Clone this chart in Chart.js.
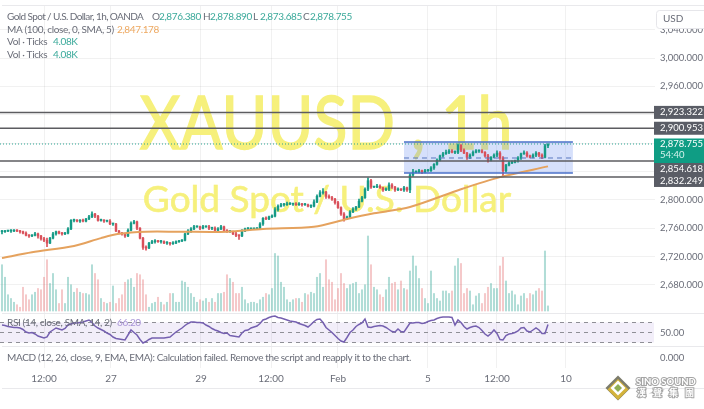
<!DOCTYPE html>
<html>
<head>
<meta charset="utf-8">
<script src="https://cdn.jsdelivr.net/npm/chart.js@4"></script>
<style>
  html, body { margin: 0; padding: 0; background: #fff; }
  canvas { display: block; filter: blur(0.35px); }
</style>
</head>
<body>
<canvas id="chart" width="704" height="409" style="width:704px;height:409px"></canvas>
<script>
// candles, one hour each
const opens = [
  2755,2755,2756,2756,2756,2757,2756,2755,2753,2750,
  2749,2750,2752,2749,2745,2743,2739,2746,2752,2755,
  2753,2752,2753,2759,2771,2771,2770,2771,2770,2773,
  2776,2780,2777,2771,2771,2770,2770,2766,2766,2756,
  2753,2752,2749,2757,2767,2769,2760,2746,2733,2732,
  2739,2741,2742,2741,2741,2739,2739,2738,2739,2741,
  2742,2743,2752,2756,2759,2762,2762,2760,2762,2762,
  2760,2760,2757,2759,2762,2757,2755,2755,2752,2750,
  2749,2756,2759,2759,2759,2759,2759,2766,2774,2773,
  2776,2777,2786,2791,2793,2793,2794,2794,2794,2793,
  2794,2793,2793,2791,2791,2797,2805,2810,2811,2805,
  2803,2801,2796,2789,2780,2773,2776,2783,2787,2790,
  2798,2803,2815,2827,2818,2818,2819,2817,2814,2815,
  2821,2818,2814,2815,2814,2817,2814,2835,2839,2839,
  2841,2839,2841,2841,2845,2850,2856,2862,2865,2867,
  2869,2867,2867,2877,2870,2866,2860,2863,2867,2869,
  2869,2867,2862,2856,2860,2863,2866,2859,2841,2849,
  2852,2853,2855,2859,2865,2866,2862,2860,2863,2866,
  2863,2860,2876.38
];
const closes = [
  2755,2756,2756,2756,2757,2756,2755,2753,2750,2749,
  2750,2752,2749,2745,2743,2739,2746,2752,2755,2753,
  2752,2753,2759,2771,2771,2770,2771,2770,2773,2776,
  2780,2777,2771,2771,2770,2770,2766,2766,2756,2753,
  2752,2749,2757,2767,2769,2760,2746,2733,2732,2739,
  2741,2742,2741,2741,2739,2739,2738,2739,2741,2742,
  2743,2752,2756,2759,2762,2762,2760,2762,2762,2760,
  2760,2757,2759,2762,2757,2755,2755,2752,2750,2749,
  2756,2759,2759,2759,2759,2759,2766,2774,2773,2776,
  2777,2786,2791,2793,2793,2794,2794,2794,2793,2794,
  2793,2793,2791,2791,2797,2805,2810,2811,2805,2803,
  2801,2796,2789,2780,2773,2776,2783,2787,2790,2798,
  2803,2815,2827,2818,2818,2819,2817,2814,2815,2821,
  2818,2814,2815,2814,2817,2814,2835,2839,2839,2841,
  2839,2841,2841,2845,2850,2856,2862,2865,2867,2869,
  2867,2867,2877,2870,2866,2860,2863,2867,2869,2869,
  2867,2862,2856,2860,2863,2866,2859,2841,2849,2852,
  2853,2855,2859,2865,2866,2862,2860,2863,2866,2863,
  2860,2876.38,2878.755
];
const upperWicks = [
  2,1,1,2,1,1,1,1,2,1, 1,2,1,1,2,3,1,2,1,1, 1,1,2,1,2,1,1,2,1,2,
  3,1,1,2,1,1,2,1,1,1, 1,1,2,2,2,1,1,1,2,1, 2,2,1,2,1,2,1,2,1,1,
  1,1,2,2,2,1,1,2,1,2, 1,2,2,2,1,1,2,1,2,1, 2,1,2,1,1,2,2,1,2,1,
  2,3,2,2,2,3,2,1,2,2, 1,2,1,2,3,2,3,5,1,2, 2,1,2,1,2,1,2,2,1,3,
  2,2,4,2,1,3,2,1,2,3, 2,1,2,1,2,1,2,4,2,2, 1,2,2,2,1,2,1,2,3,2,
  2,2,2,1,2,1,2,2,2,1, 2,1,2,1,2,3,2,2,1,2, 2,1,2,1,3,2,1,2,2,1,
  2,2,0.1
];
const lowerWicks = [
  3,1,1,2,1,1,2,1,1,2, 1,1,3,2,2,5,1,1,2,1, 2,1,1,1,2,1,2,1,1,1,
  1,2,1,1,2,1,1,2,1,1, 2,2,1,1,1,2,1,3,3,1, 1,2,1,2,1,2,2,1,1,1,
  1,1,1,2,1,1,2,1,1,2, 2,2,1,1,2,1,1,1,2,5, 1,1,2,1,1,1,1,2,1,1,
  1,1,2,1,2,1,1,2,1,1, 2,1,1,2,1,1,1,2,3,1, 2,2,1,2,3,1,1,1,2,1,
  1,1,2,2,1,1,1,2,1,2, 2,2,1,1,2,2,4,2,1,1, 2,1,1,1,2,1,1,2,1,2,
  1,2,2,2,1,3,2,1,1,2, 1,2,3,1,1,2,2,7,2,1, 1,1,2,2,1,2,1,1,2,2,
  2,1,2.7
];
// volume in thousands of ticks
const volumes = [
  37,27,13,10,7,5,3,19,13,9, 13,15,18,17,27,41,22,30,17,6,
  17,6,27,21,15,18,15,14,14,13, 37,30,25,10,7,6,7,20,6,10,
  13,23,25,26,19,30,29,25,13,3, 6,7,11,7,5,7,14,14,7,7,
  24,23,19,14,11,7,9,8,10,7, 10,7,14,14,15,29,
  26,23,14,14,19,9,6,7,7,6, 9,11,14,13,18,46,44,23,19,9,
  7,9,10,10,7,14,13,15,14,27, 30,19,41,25,23,9,18,30,22,18,
  21,22,23,14,17,21,60,37,19,17, 13,11,17,27,22,23,17,
  24,18,17,32,44,36,26,18,10,6, 32,14,10,8,16,16,14,16,36,42,
  38,14,18,16,5,12,14,6,14,19, 22,18,18,36,43,24,14,16,13,5,
  12,14,10,14,13,16,18,16,48,4.08
];
const rsiValues = [
  65,64,62,61,60,60,59,56,51,49, 50,47,43,41,39,41,51,55,59,57,
  55,58,65,67,69,69,70,71,73,75, 70,63,59,56,53,49,46,41,38,37,
  36,35,45,55,50,45,36,29,32,36, 39,39,39,39,39,40,41,46,51,55,
  59,64,68,71,71,70,70,69,65,62, 58,55,53,50,48,49,44,43,42,41,
  49,54,55,59,61,63,68,75,77,80, 82,83,80,79,77,75,73,72,71,68,
  66,64,61,66,72,76,77,70,60,55, 50,44,38,33,31,40,50,55,62,66,
  69,77,61,60,62,63,64,63,60,56, 52,51,57,52,51,60,69,69,70,70,
  68,69,72,74,75,78,80,81,81,81, 80,65,75,70,62,57,60,62,63,60,
  54,47,43,48,55,48,36,35,44,47, 48,50,53,59,60,53,51,55,59,55,
  48,48,66.2
];
// MA(100) is smooth, so a few read points are enough
const maBars = [0,10,24,33,39,48,59,75,87,104,115,124,136,153,166,182];
const maValues = [2718,2726,2735,2746,2752,2755,2755,2755,2759,2762,2773,2781,2790,2815,2832,2847.178];

const priceTicks = [3040,3000,2960,2920,2880,2840,2800,2760,2720,2680];
const timeTickBars = [14,36.33,66.33,89.67,112,142,165,188];
const timeTickLabels = ['12:00','27','29','12:00','Feb','5','12:00','10'];
const levels = [2923.322,2900.953,2854.618,2832.249];
const lastPrice = 2878.755;
const rangeTop = 2881.5, rangeMid = 2859, rangeBottom = 2837.7;
const rangeStartBar = 134, rangeEndBar = 190.3;
const rsiLevels = [70,50,30];

const UP = '#159a86', DOWN = '#d9505a';
const GREY = '#6a6d78', TEAL = '#3aa99a', BADGE = '#5a5d66';
const FONT = 'Lato';
const X_MIN = -0.667, X_MAX = 217.67;

const bars = closes.map((c, i) => i);
const isUp = bars.map(i => closes[i] >= opens[i]);
const hline = v => [{x: X_MIN, y: v}, {x: X_MAX, y: v}];
const lineBase = {type: 'line', pointRadius: 0, tension: 0, yAxisID: 'y', fill: false};

const datasets = [
  {type: 'bar', yAxisID: 'yVol', order: 9, barThickness: 1.4, grouped: false,
   data: bars.map(i => ({x: i, y: volumes[i]})),
   backgroundColor: bars.map(i => isUp[i] ? 'rgba(40,160,145,.36)' : 'rgba(225,90,95,.33)')},
  {type: 'bar', yAxisID: 'y', order: 5, barThickness: 1, grouped: false,
   data: bars.map(i => ({x: i, y: [Math.min(opens[i], closes[i]) - lowerWicks[i], Math.max(opens[i], closes[i]) + upperWicks[i]]})),
   backgroundColor: bars.map(i => isUp[i] ? UP : DOWN)},
  {type: 'bar', yAxisID: 'y', order: 4, barThickness: 1.8, grouped: false, minBarLength: 1,
   data: bars.map(i => ({x: i, y: [opens[i], closes[i]]})),
   backgroundColor: bars.map(i => isUp[i] ? UP : DOWN)},
  {...lineBase, order: 3, borderColor: '#e5a25e', borderWidth: 2, tension: 0.3,
   data: maBars.map((b, i) => ({x: b, y: maValues[i]}))},
  {...lineBase, order: 2, borderColor: '#4a70c8', borderWidth: 1.5,
   data: [{x: rangeStartBar, y: rangeTop}, {x: rangeEndBar, y: rangeTop}]},
  {...lineBase, order: 2, borderColor: '#4a70c8', borderWidth: 1.5,
   data: [{x: rangeStartBar, y: rangeBottom}, {x: rangeEndBar, y: rangeBottom}]},
  {...lineBase, order: 2, borderColor: '#5a78c0', borderWidth: 1, borderDash: [5, 4],
   data: [{x: rangeStartBar, y: rangeMid}, {x: rangeEndBar, y: rangeMid}]},
  {...lineBase, order: 2, borderColor: '#2aa392', borderWidth: 1, borderDash: [1, 2], data: hline(lastPrice)},
  ...levels.map(v => ({...lineBase, order: 1, borderColor: '#5c5c60', borderWidth: 1.5, data: hline(v)})),
  ...rsiLevels.map(v => ({...lineBase, yAxisID: 'yRsi', order: 2, borderColor: '#8f8f96', borderWidth: 1,
    borderDash: [4, 4], data: hline(v)})),
  {...lineBase, yAxisID: 'yRsi', order: 1, borderColor: '#7560b0', borderWidth: 1.5,
   data: bars.map(i => ({x: i, y: rsiValues[i]}))},
];

function text(ctx, str, x, y, color, font, align) {
  ctx.fillStyle = color;
  ctx.font = font;
  ctx.textAlign = align || 'left';
  ctx.textBaseline = 'middle';
  ctx.fillText(str, x, y);
}

// the symbol watermark is narrower than Lato, so squeeze it sideways
function watermark(ctx, str, cx, cy, size, squeeze, weight) {
  ctx.save();
  ctx.translate(cx, cy);
  ctx.scale(squeeze, 1);
  text(ctx, str, 0, 0, '#f6f07c', size + 'px ' + FONT, 'center');
  ctx.strokeStyle = '#f6f07c';
  ctx.lineWidth = weight;
  ctx.strokeText(str, 0, 0);
  ctx.restore();
}

// watermark, bands and pane dividers sit under the candles
const underlay = {
  id: 'underlay',
  beforeDatasetsDraw(chart) {
    const {ctx, scales: {x, y, yRsi}} = chart;
    ctx.save();
    watermark(ctx, 'XAUUSD , 1h', 326, 125, 74, 0.845, 1.5);
    watermark(ctx, 'Gold Spot / U.S. Dollar', 327, 200, 37, 1, 0.6);
    ctx.fillStyle = 'rgba(95,135,240,.26)';
    ctx.fillRect(x.getPixelForValue(rangeStartBar), y.getPixelForValue(rangeTop),
      x.getPixelForValue(rangeEndBar) - x.getPixelForValue(rangeStartBar),
      y.getPixelForValue(rangeBottom) - y.getPixelForValue(rangeTop));
    ctx.fillStyle = 'rgba(126,87,194,.10)';
    ctx.fillRect(0, yRsi.getPixelForValue(70), 654, yRsi.getPixelForValue(30) - yRsi.getPixelForValue(70));
    ctx.restore();
  }
};

// legends, price badges, logo
const overlay = {
  id: 'overlay',
  afterDraw(chart) {
    const {ctx, scales: {y, yRsi, yMacd}} = chart;
    ctx.save();
    ctx.strokeStyle = '#e9e9ec';
    ctx.lineWidth = 1;
    [5.5, 313.5, 346.5, 388.5].forEach(py => {
      ctx.beginPath(); ctx.moveTo(2, py); ctx.lineTo(704, py); ctx.stroke();
    });

    const f = '10px ' + FONT;
    ctx.letterSpacing = '-0.6px';
    text(ctx, 'Gold Spot / U.S. Dollar, 1h, OANDA', 7, 17, GREY, f);
    ctx.letterSpacing = '-0.36px';
    [['O', '2,876.380', 152], ['H', '2,878.890', 203], ['L', '2,873.685', 253], ['C', '2,878.755', 303]].forEach(p => {
      text(ctx, p[0], p[2], 17, GREY, f);
      text(ctx, p[1], p[2] + 7, 17, TEAL, f);
    });
    text(ctx, 'MA (100, close, 0, SMA, 5)', 7, 30, GREY, f);
    text(ctx, '2,847.178', 117, 30, '#eda860', f);
    text(ctx, 'Vol · Ticks', 7, 42, GREY, f);
    text(ctx, '4.08K', 53, 42, TEAL, f);
    text(ctx, 'Vol · Ticks', 7, 55, GREY, f);
    text(ctx, '4.08K', 53, 55, TEAL, f);
    text(ctx, 'RSI (14, close, SMA, 14, 2)', 7, 323, GREY, f);
    text(ctx, '66.20', 117, 323, '#a894d6', f);
    text(ctx, 'MACD (12, 26, close, 9, EMA, EMA): Calculation failed. Remove the script and reapply it to the chart.', 7, 358, GREY, f);
    ctx.letterSpacing = '0px';

    const tf = '9.5px ' + FONT;
    text(ctx, '50.00', 660, yRsi.getPixelForValue(50), GREY, tf);
    text(ctx, '0.000', 660, yMacd.getPixelForValue(0), GREY, tf);

    // USD box hides the top half of the 3,040 label
    ctx.fillStyle = '#fff';
    ctx.strokeStyle = '#e6e6ea';
    ctx.beginPath();
    ctx.roundRect(656.5, 10.5, 52, 18, 3);
    ctx.fill();
    ctx.stroke();
    text(ctx, 'USD', 663, 19, GREY, '10px ' + FONT);

    const badge = (v, shift) => {
      const py = y.getPixelForValue(v) + shift;
      ctx.fillStyle = BADGE;
      ctx.fillRect(654, py - 6.5, 50, 13);
      text(ctx, v.toLocaleString('en-US', {minimumFractionDigits: 3}), 660, py, '#fff', tf);
    };
    badge(levels[0], 0);
    badge(levels[1], 0);
    badge(levels[2], 7.5);
    badge(levels[3], 3.5);
    const lastY = y.getPixelForValue(lastPrice);
    ctx.fillStyle = '#0f9d84';
    ctx.fillRect(654, lastY - 5.5, 50, 24.5);
    text(ctx, lastPrice.toLocaleString('en-US', {minimumFractionDigits: 3}), 660, lastY, '#fff', tf);
    text(ctx, '54:40', 660, lastY + 11, '#d5f2ec', tf);

    // logo
    const diamond = (cx, cy, r, color) => {
      ctx.fillStyle = color;
      ctx.beginPath();
      ctx.moveTo(cx, cy - r); ctx.lineTo(cx + r, cy); ctx.lineTo(cx, cy + r); ctx.lineTo(cx - r, cy);
      ctx.closePath();
      ctx.fill();
    };
    diamond(618, 388, 12.5, '#7c7c6c');
    diamond(618, 389.5, 10.5, '#d3b23a');
    diamond(618, 388, 7.5, '#fff');
    diamond(618, 388, 4, '#8fae55');
    ctx.lineWidth = 2;
    ctx.strokeStyle = '#a5a5a5';
    ctx.font = 'bold 9.5px ' + FONT;
    ctx.textAlign = 'left';
    ctx.strokeText('SINO SOUND', 636, 382);
    text(ctx, 'SINO SOUND', 636, 382, '#fff', 'bold 9.5px ' + FONT);
    '漢聲集團'.split('').forEach((ch, i) => {
      ctx.font = 'bold 9px "Noto Sans CJK TC"';
      ctx.strokeText(ch, 637 + i * 16, 393);
      text(ctx, ch, 637 + i * 16, 393, '#fff', 'bold 9px "Noto Sans CJK TC"');
    });
    ctx.restore();
  }
};

new Chart(document.getElementById('chart'), {
  data: {datasets},
  plugins: [underlay, overlay],
  options: {
    responsive: false,
    animation: false,
    devicePixelRatio: 1,
    layout: {padding: {top: 5, left: 0, right: 0, bottom: 21}},
    plugins: {legend: {display: false}, tooltip: {enabled: false}},
    scales: {
      x: {
        type: 'linear', min: X_MIN, max: X_MAX, offset: false,
        afterBuildTicks: s => { s.ticks = timeTickBars.map(v => ({value: v})); },
        afterFit: s => { s.height = 20; s.paddingLeft = 0; s.paddingRight = 0; },
        grid: {color: 'rgba(0,0,0,.055)', drawTicks: false, offset: false},
        border: {display: false},
        ticks: {
          autoSkip: false, maxRotation: 0, padding: 5, color: GREY, font: {family: FONT, size: 10},
          callback: (v, i) => timeTickLabels[i]
        }
      },
      y: {
        position: 'right', min: 2562.8, max: 3074.8,
        afterBuildTicks: s => { s.ticks = priceTicks.map(v => ({value: v})); },
        afterFit: s => { s.width = 49; s.paddingTop = 0; s.paddingBottom = 0; },
        grid: {color: 'rgba(0,0,0,.055)', drawTicks: false},
        border: {display: false},
        ticks: {
          autoSkip: false, padding: 5, color: GREY, font: {family: FONT, size: 9.5},
          callback: v => v.toLocaleString('en-US', {minimumFractionDigits: 3})
        }
      },
      yVol: {display: false, min: -45.6, max: 244.8},
      yRsi: {display: false, min: -21, max: 705},
      yMacd: {display: false, min: -10, max: 353}
    }
  }
});
</script>
</body>
</html>
